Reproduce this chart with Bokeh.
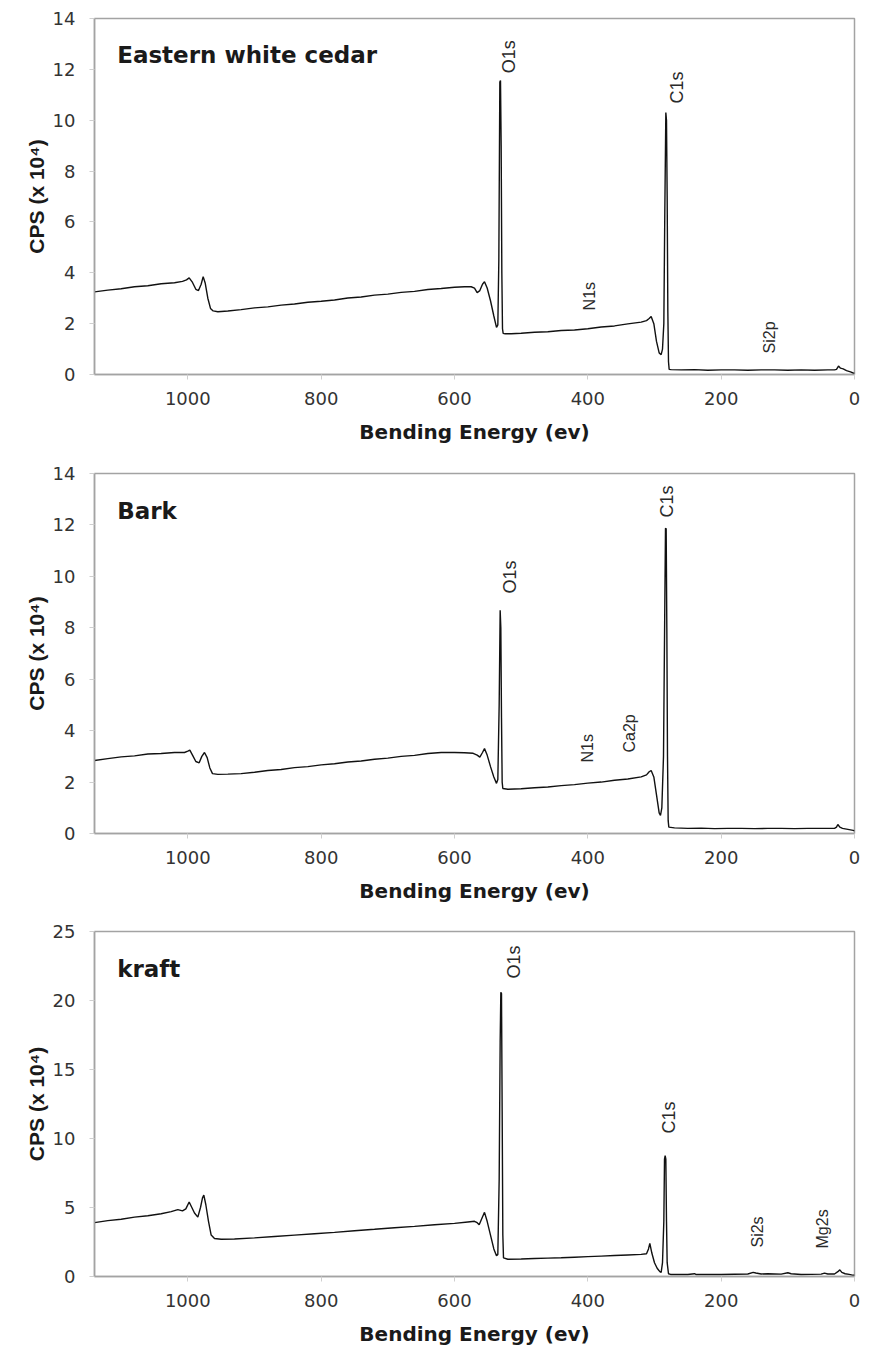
import math
from bokeh.plotting import figure
from bokeh.layouts import column
from bokeh.models import Range1d, Label, FixedTicker
from bokeh.embed import file_html
from bokeh.resources import INLINE

# ---- XPS survey spectra: binding energy (eV) vs counts per second (x 10^4) ----
cedar_ev = [1140, 1120, 1100, 1080, 1060, 1040, 1020, 1008, 1002, 998, 993, 988, 984, 980,
            977, 974, 970, 966, 962, 955, 940, 920, 900, 880, 860, 840, 820, 800, 780, 760,
            740, 720, 700, 680, 660, 640, 620, 600, 585, 575, 570, 566, 562, 558, 555, 551,
            546, 541, 537, 535, 533.5, 532, 531, 530, 529, 528, 527, 524, 515, 500, 480, 460,
            440, 420, 400, 380, 360, 340, 320, 312, 308, 305, 301, 297, 293, 290, 288, 286,
            284.5, 283, 282, 281, 280, 279, 278, 275, 260, 240, 220, 200, 180, 160, 140, 120,
            100, 80, 60, 40, 30, 27, 24, 21, 17, 12, 6, 2, 0]
cedar_cps = [3.25, 3.32, 3.37, 3.45, 3.49, 3.57, 3.61, 3.66, 3.72, 3.8, 3.62, 3.35, 3.3, 3.55,
             3.85, 3.6, 3.0, 2.6, 2.5, 2.47, 2.5, 2.55, 2.62, 2.66, 2.73, 2.77, 2.84, 2.88, 2.93, 3.01,
             3.05, 3.12, 3.16, 3.23, 3.27, 3.34, 3.38, 3.43, 3.45, 3.45, 3.4, 3.22, 3.3, 3.55, 3.65, 3.4,
             2.9, 2.3, 1.85, 1.95, 4.5, 11.5, 11.56, 9.0, 4.0, 1.8, 1.62, 1.6, 1.6, 1.62, 1.66, 1.68,
             1.73, 1.75, 1.8, 1.87, 1.91, 1.99, 2.06, 2.12, 2.2, 2.28, 2.0, 1.3, 0.85, 0.78, 1.0, 2.0,
             6.5, 10.3, 10.0, 7.0, 2.5, 0.5, 0.2, 0.19, 0.18, 0.19, 0.17, 0.18, 0.18, 0.17, 0.18, 0.18,
             0.17, 0.18, 0.17, 0.18, 0.18, 0.2, 0.33, 0.25, 0.22, 0.15, 0.1, 0.06, 0.05]

bark_ev = [1140, 1120, 1100, 1080, 1060, 1040, 1020, 1005, 1000, 997, 993, 988, 983, 979, 975,
           971, 967, 963, 955, 940, 920, 900, 880, 860, 840, 820, 800, 780, 760, 740, 720, 700,
           680, 660, 640, 620, 600, 585, 572, 566, 562, 558, 555, 551, 546, 541, 537, 535, 533,
           531.5, 530.5, 529.5, 528.5, 527.5, 520, 500, 480, 460, 440, 420, 400, 380, 360, 340,
           320, 312, 308, 305, 301, 297, 293, 291, 289, 286.5, 284.5, 283.5, 282.5, 281.5, 280.5,
           279.5, 278.5, 270, 250, 230, 210, 190, 170, 150, 130, 110, 90, 70, 50, 30, 27, 25, 22,
           18, 12, 6, 2, 0]
bark_cps = [2.84, 2.91, 2.98, 3.02, 3.09, 3.11, 3.15, 3.15, 3.2, 3.24, 3.05, 2.8, 2.75, 3.0, 3.15,
            2.95, 2.55, 2.33, 2.3, 2.31, 2.33, 2.38, 2.45, 2.49, 2.56, 2.6, 2.67, 2.71, 2.78, 2.82, 2.89, 2.93,
            3.0, 3.04, 3.11, 3.15, 3.15, 3.14, 3.12, 3.05, 2.97, 3.15, 3.3, 3.05, 2.6, 2.2, 1.95, 2.1, 5.0,
            8.68, 8.0, 4.5, 2.0, 1.75, 1.72, 1.74, 1.78, 1.81, 1.86, 1.9, 1.96, 2.0, 2.07, 2.12,
            2.2, 2.28, 2.4, 2.45, 2.2, 1.5, 0.8, 0.7, 1.0, 3.0, 9.0, 11.87, 11.85, 8.0, 3.0,
            0.5, 0.25, 0.22, 0.2, 0.21, 0.19, 0.2, 0.2, 0.19, 0.2, 0.2, 0.19, 0.2, 0.2, 0.2, 0.25, 0.35, 0.25,
            0.2, 0.17, 0.14, 0.12, 0.1]

kraft_ev = [1140, 1120, 1100, 1080, 1060, 1040, 1025, 1015, 1008, 1003, 998, 994, 990, 985, 981,
            978, 976, 973, 969, 965, 960, 950, 930, 900, 870, 840, 810, 780, 750, 720, 690, 660,
            630, 600, 580, 570, 566, 563, 559, 555, 551, 546, 541, 537, 535, 533, 531.5, 530.5,
            529.5, 528.5, 527.5, 526.5, 520, 500, 480, 460, 440, 420, 400, 380, 360, 340, 320,
            312, 309, 307, 304, 300, 296, 292, 290, 288, 286, 285, 284, 283, 282, 281, 279, 276,
            250, 240, 238, 200, 160, 152, 148, 140, 130, 110, 100, 95, 80, 50, 45, 40, 30, 25,
            22, 19, 14, 8, 3, 0]
kraft_cps = [3.9, 4.05, 4.15, 4.3, 4.4, 4.55, 4.7, 4.85, 4.75, 4.9, 5.4, 5.0, 4.6, 4.3, 5.0,
             5.7, 5.9, 5.2, 4.0, 3.0, 2.75, 2.7, 2.72, 2.8, 2.9, 3.0, 3.1, 3.2, 3.32, 3.42, 3.53, 3.63,
             3.75, 3.85, 3.95, 4.0, 3.9, 3.75, 4.2, 4.65, 4.0, 3.0, 2.0, 1.5, 1.6, 7.0, 17.0, 20.6,
             20.5, 12.0, 3.0, 1.35, 1.25, 1.27, 1.3, 1.33, 1.36, 1.4, 1.44, 1.48, 1.52, 1.56, 1.6,
             1.65, 2.0, 2.4, 1.7, 1.0, 0.6, 0.35, 0.3, 1.0, 4.0, 8.5, 8.75, 8.5, 4.0, 1.0, 0.2, 0.15,
             0.15, 0.2, 0.15, 0.15, 0.18, 0.3, 0.25, 0.18, 0.2, 0.17, 0.27, 0.2, 0.15, 0.17, 0.25, 0.18, 0.18, 0.35,
             0.48, 0.3, 0.2, 0.15, 0.1, 0.1]

# peak assignments: (text, energy, cps where the label starts)
cedar_peaks = [("O1s", 519, 11.85), ("C1s", 267, 10.66), ("N1s", 397, 2.52), ("Si2p", 128, 0.83)]
bark_peaks = [("O1s", 517, 9.33), ("C1s", 282, 12.29), ("N1s", 400, 2.76), ("Ca2p", 338, 3.15)]
kraft_peaks = [("O1s", 511, 21.6), ("C1s", 279, 10.36), ("Si2s", 145, 2.1), ("Mg2s", 48, 2.03)]

x_ticks = [0, 200, 400, 600, 800, 1000]
y_ticks_small = [0, 2, 4, 6, 8, 10, 12, 14]
y_ticks_large = [0, 5, 10, 15, 20, 25]

FRAME = "#a3a3a3"
TICK = "#cfcfcf"


def panel(title, title_y, ev, cps, peaks, y_max, y_ticks, height, borders, big_peaks):
    top, right, bottom, left = borders
    p = figure(width=875, height=height, output_backend="svg", toolbar_location=None,
               x_range=Range1d(1140, 0), y_range=Range1d(0, y_max),
               min_border_top=top, min_border_right=right, min_border_bottom=bottom,
               min_border_left=left, background_fill_color="white", border_fill_color="white")
    p.grid.visible = False
    p.outline_line_color = FRAME
    p.outline_line_width = 1.5

    p.line(ev, cps, line_color="#111111", line_width=1.4)

    for ax in (p.xaxis[0], p.yaxis[0]):
        ax.axis_line_color = FRAME
        ax.axis_line_width = 1.5
        ax.major_tick_line_color = TICK
        ax.major_tick_out = 5
        ax.major_tick_in = 0
        ax.minor_tick_line_color = None
        ax.major_label_text_font = "DejaVu Sans"
        ax.major_label_text_font_size = "18px"
        ax.major_label_text_color = "#333333"
        ax.axis_label_text_font_style = "bold"
        ax.axis_label_text_color = "#1a1a1a"

    p.xaxis.ticker = FixedTicker(ticks=x_ticks)
    p.xaxis.major_label_standoff = 12
    p.xaxis.axis_label = "Bending Energy (ev)"
    p.xaxis.axis_label_text_font = "DejaVu Sans"
    p.xaxis.axis_label_text_font_size = "20px"
    p.xaxis.axis_label_standoff = 12

    p.yaxis.ticker = FixedTicker(ticks=y_ticks)
    p.yaxis.major_label_standoff = 14
    p.yaxis.axis_label = "CPS (x 10\u2074)"
    p.yaxis.axis_label_text_font = "Liberation Sans"
    p.yaxis.axis_label_text_font_size = "21px"
    p.yaxis.axis_label_standoff = 2

    p.add_layout(Label(x=1106, y=title_y, text=title, text_font="DejaVu Sans",
                       text_font_style="bold", text_font_size="23px", text_color="#1a1a1a",
                       text_align="left", text_baseline="alphabetic"))

    for name, e, c in peaks:
        size = "18px" if name in big_peaks else "16px"
        p.add_layout(Label(x=e, y=c, text=name, angle=math.pi / 2, text_font="Liberation Sans",
                           text_font_size=size, text_color="#2a2a2a",
                           text_align="left", text_baseline="middle"))
    return p


p1 = panel("Eastern white cedar", 12.55, cedar_ev, cedar_cps, cedar_peaks, 14, y_ticks_small,
           452, (18, 21, 78, 90), ("O1s", "C1s"))
p2 = panel("Bark", 12.56, bark_ev, bark_cps, bark_peaks, 14, y_ticks_small,
           460, (21, 8, 79, 93), ("O1s", "C1s"))
p3 = panel("kraft", 22.3, kraft_ev, kraft_cps, kraft_peaks, 25, y_ticks_large,
           443, (19, 16, 79, 94), ("O1s", "C1s"))

layout = column(p1, p2, p3, spacing=0)
open("out.html", "w").write(file_html(layout, INLINE))
